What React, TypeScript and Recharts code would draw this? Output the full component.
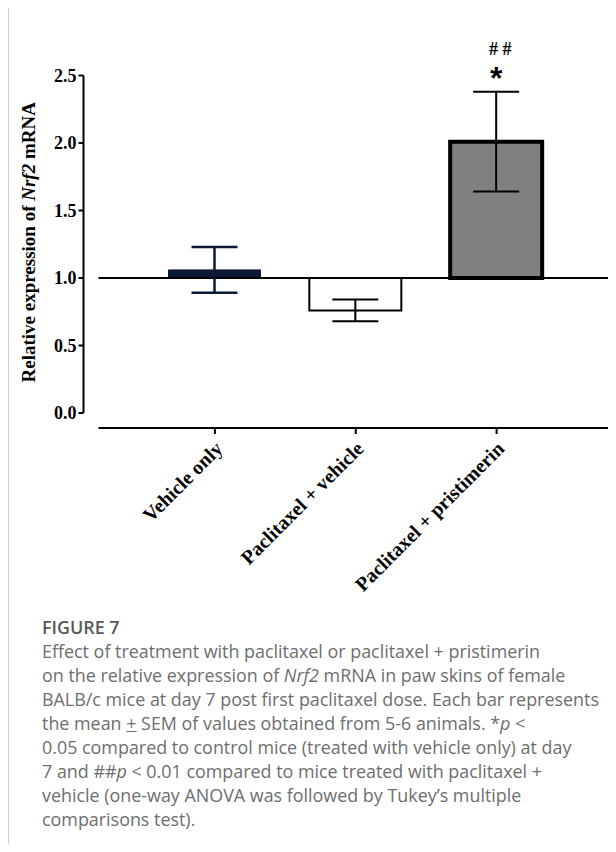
import React from 'react';
import { BarChart, Bar, XAxis, YAxis, Cell, ErrorBar, ReferenceLine, LabelList } from 'recharts';

const groups = ['Vehicle only', 'Paclitaxel + vehicle', 'Paclitaxel + pristimerin'];
const means = [1.06, 0.76, 2.01];
const sems = [0.17, 0.08, 0.37];
const starMarks = ['', '', '*'];
const hashMarks = ['', '', '# #'];
const yTicks = [0, 0.5, 1, 1.5, 2, 2.5];
const BASELINE = 1;

const BAR_FILLS = ['#0b1836', '#ffffff', '#808080'];
const BAR_STROKES = ['#0b1836', '#000000', '#000000'];
const BAR_STROKE_W = [1, 2, 4];
const SERIF = '"Liberation Serif", "Times New Roman", serif';

const data = groups.map((g, i) => ({
  group: g,
  range: [BASELINE, means[i]],
  errNavy: i === 0 ? sems[i] : null,
  errBlack: i === 0 ? null : sems[i],
  star: starMarks[i],
  hash: hashMarks[i],
}));

const XTick = (props: any) => {
  const { x, y, payload } = props;
  return (
    <g transform={`translate(${x + 9},${y + 14})`}>
      <text
        x={0}
        y={0}
        textAnchor="end"
        transform="rotate(-45)"
        fontFamily={SERIF}
        fontWeight={700}
        fontSize={20}
        fill="#000"
      >
        {payload.value}
      </text>
    </g>
  );
};

const YTitle = (props: any) => {
  const vb = props.viewBox || {};
  const cx = (vb.x ?? 0) + 28;
  const cy = (vb.y ?? 0) + (vb.height ?? 0) / 2 - 2;
  return (
    <text
      x={cx}
      y={cy}
      transform={`rotate(-90 ${cx} ${cy})`}
      textAnchor="middle"
      dominantBaseline="central"
      fontFamily={SERIF}
      fontWeight={700}
      fontSize={19}
      fill="#000"
    >
      Relative expression of <tspan fontStyle="italic">Nrf2</tspan> mRNA
    </text>
  );
};

const StarLabel = (props: any) => {
  const { x, y, width, value } = props;
  if (!value) return null;
  return (
    <text x={x + width / 2} y={y - 53} textAnchor="middle" fontFamily='"Liberation Sans", Arial, sans-serif'
      fontWeight={700} fontSize={32} fill="#000">
      {value}
    </text>
  );
};

const HashLabel = (props: any) => {
  const { x, y, width, value } = props;
  if (!value) return null;
  return (
    <text x={x + width / 2 + 4} y={y - 87} textAnchor="middle" fontFamily={SERIF}
      fontWeight={700} fontSize={18} fill="#000">
      {value}
    </text>
  );
};

export default function App() {
  return (
    <div style={{ position: 'relative', width: 616, height: 852, margin: -8, background: '#fff', overflow: 'hidden' }}>
      <div
        style={{
          position: 'absolute',
          left: 8,
          top: 7,
          width: 700,
          height: 900,
          borderTop: '1px solid #cccccc',
          borderLeft: '1px solid #cccccc',
        }}
      />
      <div style={{ position: 'absolute', left: 0, top: 0 }}>
        <BarChart width={616} height={600} data={data} margin={{ top: 75.5, right: 3, bottom: 0, left: 0 }}>
          <XAxis xAxisId="inner" dataKey="group" height={15} axisLine={false} tickLine={false} tick={false} />
          <XAxis
            xAxisId="outer"
            dataKey="group"
            height={172}
            padding={{ left: 46, right: 46 }}
            axisLine={{ stroke: '#000', strokeWidth: 2 }}
            tickLine={{ stroke: '#000', strokeWidth: 2 }}
            tickSize={6}
            tick={<XTick />}
            interval={0}
          />
          <YAxis yAxisId="inner" type="number" domain={[0, 2.5]} width={15} axisLine={false} tickLine={false} tick={false} />
          <YAxis
            yAxisId="outer"
            type="number"
            domain={[0, 2.5]}
            ticks={yTicks}
            width={83.5}
            interval={0}
            tickFormatter={(v: number) => v.toFixed(1)}
            axisLine={{ stroke: '#000', strokeWidth: 2 }}
            tickLine={{ stroke: '#000', strokeWidth: 2 }}
            tickSize={5}
            tick={{ fill: '#000', fontFamily: SERIF, fontWeight: 700, fontSize: 18 }}
            label={{ content: <YTitle /> }}
          />
          <ReferenceLine xAxisId="outer" yAxisId="outer" y={BASELINE} stroke="#000" strokeWidth={2} />
          <Bar xAxisId="outer" yAxisId="outer" dataKey="range" barSize={92} isAnimationActive={false}>
            {data.map((d, i) => (
              <Cell key={d.group} fill={BAR_FILLS[i]} stroke={BAR_STROKES[i]} strokeWidth={BAR_STROKE_W[i]} />
            ))}
            <ErrorBar dataKey="errNavy" width={23} stroke="#0b1836" strokeWidth={2.5} direction="y" />
            <ErrorBar dataKey="errBlack" width={23} stroke="#000" strokeWidth={2} direction="y" />
            <LabelList dataKey="star" content={<StarLabel />} />
            <LabelList dataKey="hash" content={<HashLabel />} />
          </Bar>
        </BarChart>
      </div>
      <div
        style={{
          position: 'absolute',
          left: 42,
          top: 615,
          fontFamily: '"Open Sans", sans-serif',
          fontSize: 17.9,
          lineHeight: '24px',
          color: '#6e6e6e',
          whiteSpace: 'nowrap',
        }}
      >
        <div style={{ fontWeight: 600, color: '#595959' }}>FIGURE 7</div>
        <div>Effect of treatment with paclitaxel or paclitaxel + pristimerin</div>
        <div>
          on the relative expression of <i>Nrf2</i> mRNA in paw skins of female
        </div>
        <div>BALB/c mice at day 7 post first paclitaxel dose. Each bar represents</div>
        <div>
          the mean <u>+</u> SEM of values obtained from 5-6 animals. *<i>p</i> &lt;
        </div>
        <div>0.05 compared to control mice (treated with vehicle only) at day</div>
        <div>
          7 and ##<i>p</i> &lt; 0.01 compared to mice treated with paclitaxel +
        </div>
        <div>vehicle (one-way ANOVA was followed by Tukey’s multiple</div>
        <div>comparisons test).</div>
      </div>
    </div>
  );
}
